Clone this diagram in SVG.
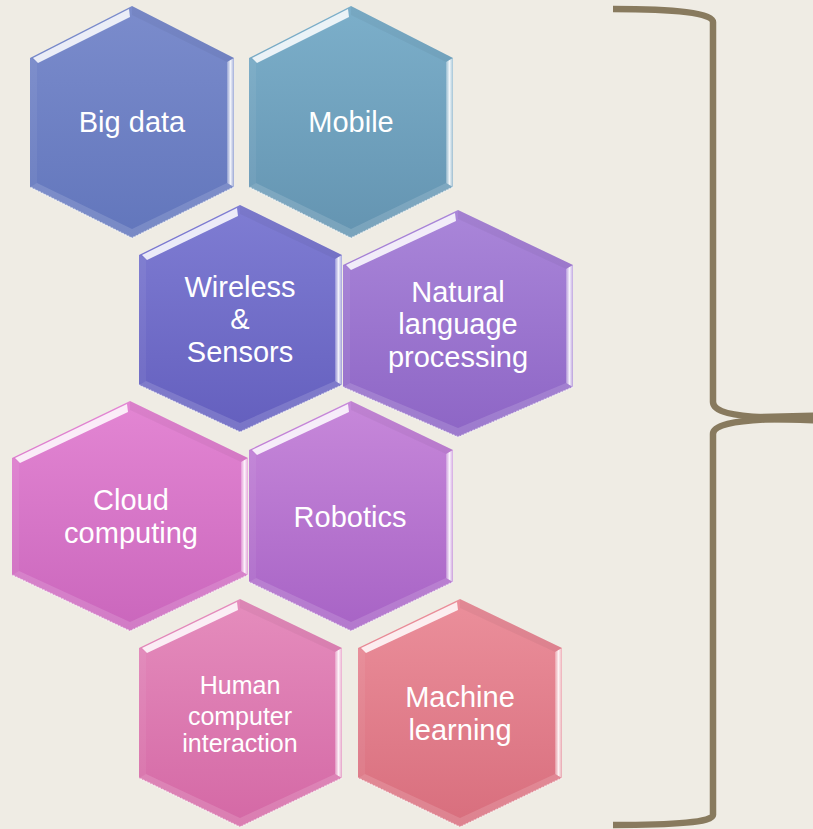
<svg xmlns="http://www.w3.org/2000/svg" width="813" height="829" viewBox="0 0 813 829">
<defs>
<linearGradient id="gBig" x1="0" y1="0" x2="0" y2="1"><stop offset="0" stop-color="#7b8ccc"/><stop offset="1" stop-color="#6276bc"/></linearGradient>
<linearGradient id="gMob" x1="0" y1="0" x2="0" y2="1"><stop offset="0" stop-color="#7cafca"/><stop offset="1" stop-color="#6494b1"/></linearGradient>
<linearGradient id="gWir" x1="0" y1="0" x2="0" y2="1"><stop offset="0" stop-color="#7f7dd3"/><stop offset="1" stop-color="#645fbe"/></linearGradient>
<linearGradient id="gNlp" x1="0" y1="0" x2="0" y2="1"><stop offset="0" stop-color="#aa86d9"/><stop offset="1" stop-color="#8d65c5"/></linearGradient>
<linearGradient id="gClo" x1="0" y1="0" x2="0" y2="1"><stop offset="0" stop-color="#e386d3"/><stop offset="1" stop-color="#ca66bc"/></linearGradient>
<linearGradient id="gRob" x1="0" y1="0" x2="0" y2="1"><stop offset="0" stop-color="#c788da"/><stop offset="1" stop-color="#a763c5"/></linearGradient>
<linearGradient id="gHum" x1="0" y1="0" x2="0" y2="1"><stop offset="0" stop-color="#e58dbd"/><stop offset="1" stop-color="#d468a5"/></linearGradient>
<linearGradient id="gMac" x1="0" y1="0" x2="0" y2="1"><stop offset="0" stop-color="#eb8f9b"/><stop offset="1" stop-color="#d86e7d"/></linearGradient>
<linearGradient id="hiR" x1="0" y1="0" x2="1" y2="0"><stop offset="0" stop-color="#ffffff" stop-opacity="0.25"/><stop offset="0.5" stop-color="#ffffff" stop-opacity="0.9"/><stop offset="1" stop-color="#ffffff" stop-opacity="0.35"/></linearGradient>
</defs>
<style>
.bg{fill:#efece4}
.tl{fill:#ffffff;fill-opacity:0.85}
.tr{fill:#000000;fill-opacity:0.04}
.rt{fill:url(#hiR)}
.bt{fill:#ffffff;fill-opacity:0.14}
.lf{fill:#ffffff;fill-opacity:0.06}
.edge{fill:none;stroke:#ffffff;stroke-opacity:0.55;stroke-width:1.5;stroke-dasharray:2 1}
.lbl{font-family:"Liberation Sans","Open Sans",Arial,sans-serif;font-size:29px;fill:#ffffff;text-anchor:middle}
.sm{font-size:25px}
.brace{fill:none;stroke:#887a5e;stroke-width:6.5;stroke-linecap:butt}
</style>
<rect class="bg" x="0" y="0" width="813" height="829"/>

<g id="big-data">
<polygon fill="url(#gBig)" points="132,6 234,58 234,187 132,238 30,187 30,58"/>
<polygon class="tr" points="132,6 234,58 227,62 132,15"/>
<polygon class="rt" points="234,58 234,187 227,183 227,62"/>
<polygon class="bt" points="234,187 132,238 132,229 227,183"/>
<polygon class="bt" points="132,238 30,187 37,183 132,229"/>
<polygon class="lf" points="30,58 37,62 37,183 30,187"/>
<polygon class="tl" points="33,58 129,9 130,17 38,63"/>
<polyline class="edge" points="234,187 132,238 30,187"/>
<text class="lbl" x="132" y="132">Big data</text>
</g>

<g id="mobile">
<polygon fill="url(#gMob)" points="351,6 453,58 453,187 351,238 249,187 249,58"/>
<polygon class="tr" points="351,6 453,58 446,62 351,15"/>
<polygon class="rt" points="453,58 453,187 446,183 446,62"/>
<polygon class="bt" points="453,187 351,238 351,229 446,183"/>
<polygon class="bt" points="351,238 249,187 256,183 351,229"/>
<polygon class="lf" points="249,58 256,62 256,183 249,187"/>
<polygon class="tl" points="252,58 348,9 349,17 257,63"/>
<polyline class="edge" points="453,187 351,238 249,187"/>
<text class="lbl" x="351" y="132">Mobile</text>
</g>

<g id="wireless-sensors">
<polygon fill="url(#gWir)" points="240,205 342,255 342,385 240,432 139,385 139,255"/>
<polygon class="tr" points="240,205 342,255 335,259 240,214"/>
<polygon class="rt" points="342,255 342,385 335,381 335,259"/>
<polygon class="bt" points="342,385 240,432 240,423 335,381"/>
<polygon class="bt" points="240,432 139,385 146,381 240,423"/>
<polygon class="lf" points="139,255 146,259 146,381 139,385"/>
<polygon class="tl" points="142,255 237,208 238,216 147,260"/>
<polyline class="edge" points="342,385 240,432 139,385"/>
<text class="lbl" x="240" y="297">Wireless</text>
<text class="lbl" x="240" y="329">&amp;</text>
<text class="lbl" x="240" y="362">Sensors</text>
</g>

<g id="natural-language-processing">
<polygon fill="url(#gNlp)" points="458,210 573,265 573,387 458,437 343,387 343,265"/>
<polygon class="tr" points="458,210 573,265 566,269 458,219"/>
<polygon class="rt" points="573,265 573,387 566,383 566,269"/>
<polygon class="bt" points="573,387 458,437 458,428 566,383"/>
<polygon class="bt" points="458,437 343,387 350,383 458,428"/>
<polygon class="lf" points="343,265 350,269 350,383 343,387"/>
<polygon class="tl" points="346,265 455,213 456,221 351,270"/>
<polyline class="edge" points="573,387 458,437 343,387"/>
<text class="lbl" x="458" y="302">Natural</text>
<text class="lbl" x="458" y="334">language</text>
<text class="lbl" x="458" y="367">processing</text>
</g>

<g id="cloud-computing">
<polygon fill="url(#gClo)" points="130,401 248,458 248,575 130,631 12,575 12,458"/>
<polygon class="tr" points="130,401 248,458 241,462 130,410"/>
<polygon class="rt" points="248,458 248,575 241,571 241,462"/>
<polygon class="bt" points="248,575 130,631 130,622 241,571"/>
<polygon class="bt" points="130,631 12,575 19,571 130,622"/>
<polygon class="lf" points="12,458 19,462 19,571 12,575"/>
<polygon class="tl" points="15,458 127,404 128,412 20,463"/>
<polyline class="edge" points="248,575 130,631 12,575"/>
<text class="lbl" x="131" y="510">Cloud</text>
<text class="lbl" x="131" y="543">computing</text>
</g>

<g id="robotics">
<polygon fill="url(#gRob)" points="351,401 453,450 453,582 351,631 249,582 249,450"/>
<polygon class="tr" points="351,401 453,450 446,454 351,410"/>
<polygon class="rt" points="453,450 453,582 446,578 446,454"/>
<polygon class="bt" points="453,582 351,631 351,622 446,578"/>
<polygon class="bt" points="351,631 249,582 256,578 351,622"/>
<polygon class="lf" points="249,450 256,454 256,578 249,582"/>
<polygon class="tl" points="252,450 348,404 349,412 257,455"/>
<polyline class="edge" points="453,582 351,631 249,582"/>
<text class="lbl" x="350" y="527">Robotics</text>
</g>

<g id="human-computer-interaction">
<polygon fill="url(#gHum)" points="240,599 342,648 342,778 240,827 139,778 139,648"/>
<polygon class="tr" points="240,599 342,648 335,652 240,608"/>
<polygon class="rt" points="342,648 342,778 335,774 335,652"/>
<polygon class="bt" points="342,778 240,827 240,818 335,774"/>
<polygon class="bt" points="240,827 139,778 146,774 240,818"/>
<polygon class="lf" points="139,648 146,652 146,774 139,778"/>
<polygon class="tl" points="142,648 237,602 238,610 147,653"/>
<polyline class="edge" points="342,778 240,827 139,778"/>
<text class="lbl sm" x="240" y="694">Human</text>
<text class="lbl sm" x="240" y="725">computer</text>
<text class="lbl sm" x="240" y="752">interaction</text>
</g>

<g id="machine-learning">
<polygon fill="url(#gMac)" points="460,599 562,648 562,778 460,827 358,778 358,648"/>
<polygon class="tr" points="460,599 562,648 555,652 460,608"/>
<polygon class="rt" points="562,648 562,778 555,774 555,652"/>
<polygon class="bt" points="562,778 460,827 460,818 555,774"/>
<polygon class="bt" points="460,827 358,778 365,774 460,818"/>
<polygon class="lf" points="358,648 365,652 365,774 358,778"/>
<polygon class="tl" points="361,648 457,602 458,610 366,653"/>
<polyline class="edge" points="562,778 460,827 358,778"/>
<text class="lbl" x="460" y="707">Machine</text>
<text class="lbl" x="460" y="740">learning</text>
</g>

<g id="connectors">
<path class="brace" d="M613,9 C675,9 713,13 713,22 L713,402 C713,412 735,416 765,417.5 L813,418"/>
<path class="brace" d="M813,419 L765,419.5 C735,421 713,425 713,434 L713,815 C713,822 675,825 613,825"/>
<polygon fill="#887a5e" points="750,414 813,412.5 813,423.5 750,421"/>
</g>
</svg>
